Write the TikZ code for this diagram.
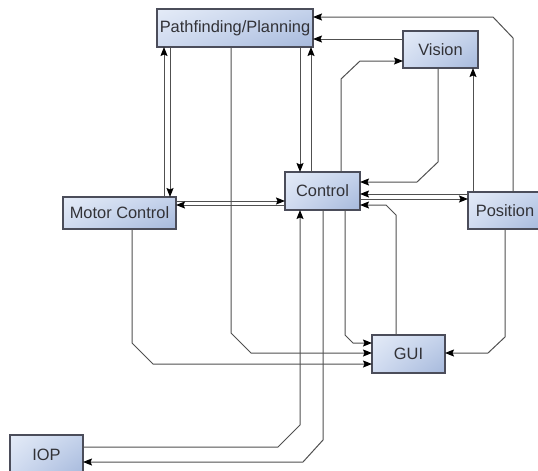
\documentclass[tikz,border=0pt]{standalone}
\usepackage{fontspec}
\setmainfont{Liberation Sans}
\usetikzlibrary{arrows.meta,shadings}
\definecolor{boxUL}{RGB}{228,235,247}
\definecolor{boxUR}{RGB}{196,210,235}
\definecolor{boxLL}{RGB}{208,219,240}
\definecolor{boxLR}{RGB}{166,185,220}
\definecolor{boxLine}{RGB}{75,77,90}
\definecolor{boxText}{RGB}{50,50,55}
\definecolor{wire}{RGB}{80,80,80}
\tikzset{
  module/.style={draw=boxLine, line width=1.2pt,
    upper left=boxUL, upper right=boxUR, lower left=boxLL, lower right=boxLR,
    text=boxText, font=\fontsize{16.4}{19}\selectfont,
    inner sep=0pt, outer sep=0pt, anchor=center},
  conn/.style={draw=wire, line width=1pt,
    -{Stealth[length=9pt,width=7pt,inset=1.5pt,black]}},
}
\begin{document}
\begin{tikzpicture}[x=1pt,y=-1pt]
\useasboundingbox (0,0) rectangle (538,471);

% modules
\node[module, minimum width=156pt, minimum height=38pt] (path) at (235,28) {Pathfinding/Planning};
\node[module, minimum width=75pt, minimum height=37pt] (vis) at (440.5,49.5) {Vision};
\node[module, minimum width=75pt, minimum height=38pt] (ctl) at (322.5,191) {Control};
\node[module, minimum width=74pt, minimum height=37pt] (pos) at (505,210.5) {Position};
\node[module, minimum width=113pt, minimum height=32pt] (mot) at (119.5,213) {Motor Control};
\node[module, minimum width=73pt, minimum height=38pt] (gui) at (408.5,354) {GUI};
\node[module, minimum width=73pt, minimum height=40pt] (iop) at (46.5,455) {IOP};

% links to planning
\draw[conn] (pos.north -| 513,0) -- (513,38) -- (493,17) -- (path.east |- 0,17);
\draw[conn] (vis.west |- 0,39) -- (path.east |- 0,39);
\draw[conn] (path.south -| 300,0) -- (ctl.north -| 300,0);
\draw[conn] (ctl.north -| 311,0) -- (path.south -| 311,0);
\draw[conn] (mot.north -| 164,0) -- (path.south -| 164,0);
\draw[conn] (path.south -| 170,0) -- (mot.north -| 170,0);

% vision
\draw[conn] (ctl.north -| 341,0) -- (341,79) -- (360,61) -- (vis.west |- 0,61);
\draw[conn] (vis.south -| 438,0) -- (438,162) -- (417,182) -- (ctl.east |- 0,182);
\draw[conn] (pos.north -| 473,0) -- (vis.south -| 473,0);

% control and its neighbours
\draw[conn] (pos.west |- 0,194) -- (ctl.east |- 0,194);
\draw[conn] (ctl.east |- 0,199) -- (pos.west |- 0,199);
\draw[conn] (gui.north -| 396,0) -- (396,215) -- (386,205) -- (ctl.east |- 0,205);
\draw[conn] (mot.east |- 0,201) -- (ctl.west |- 0,201);
\draw[conn] (ctl.west |- 0,205) -- (mot.east |- 0,205);

% GUI inputs
\draw[conn] (ctl.south -| 345,0) -- (345,335) -- (353,343) -- (gui.west |- 0,343);
\draw[conn] (path.south -| 231,0) -- (231,333) -- (251,353) -- (gui.west |- 0,353);
\draw[conn] (mot.south -| 132,0) -- (132,343) -- (153,364) -- (gui.west |- 0,364);
\draw[conn] (pos.south -| 505,0) -- (505,337) -- (488,353) -- (gui.east |- 0,353);

% IOP
\draw[conn] (iop.east |- 0,447) -- (278,447) -- (300,425) -- (ctl.south -| 300,0);
\draw[conn] (ctl.south -| 323,0) -- (323,440) -- (303,462) -- (iop.east |- 0,462);
\end{tikzpicture}
\end{document}
